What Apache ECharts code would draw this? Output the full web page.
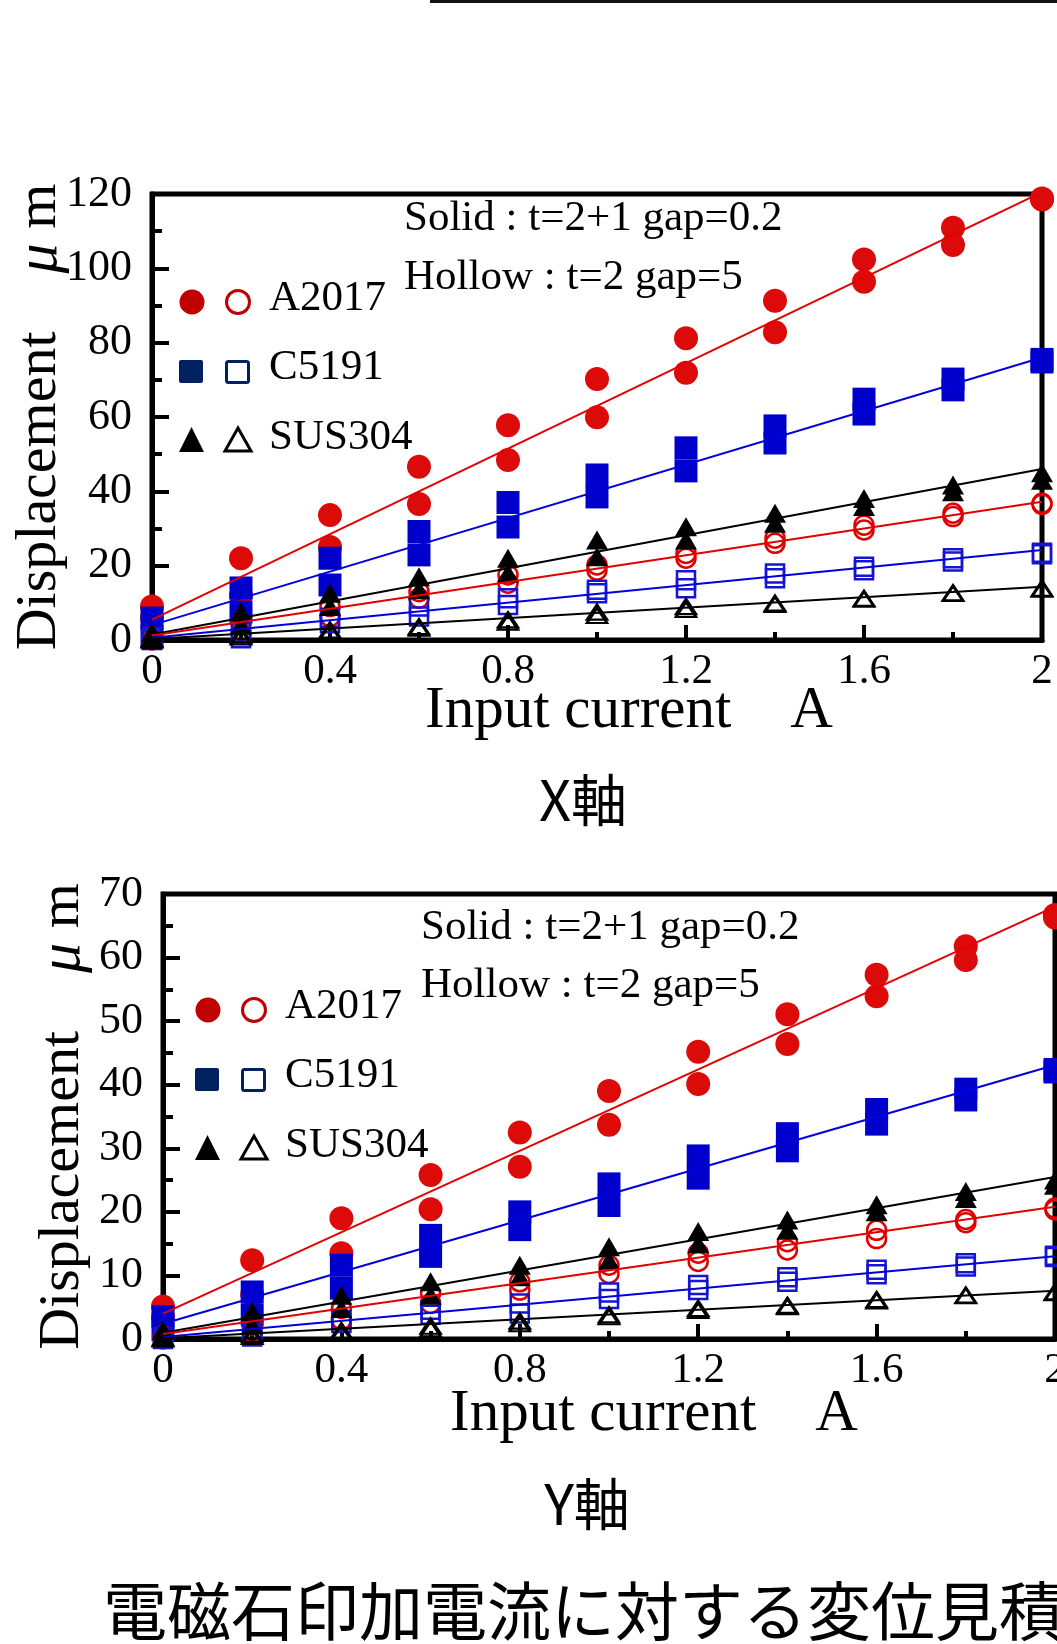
<!DOCTYPE html>
<html>
<head>
<meta charset="utf-8">
<script src="https://cdn.jsdelivr.net/npm/echarts@6/dist/echarts.min.js"></script>
<style>
  html, body { margin: 0; padding: 0; background: #fff; }
  #chart { width: 1057px; height: 1644px; }
</style>
</head>
<body>
<div id="chart"></div>
<script>
// 入力電流 A
var current = [0, 0.2, 0.4, 0.6, 0.8, 1.0, 1.2, 1.4, 1.6, 1.8, 2.0];
var xTickLabels = ['0', '0.4', '0.8', '1.2', '1.6', '2'];
var fitX = [0, 2];

// X軸 変位 μm (中実:2回測定 / 中空:2回測定)
var xA2017SolidHi = [9, 22, 33.6, 46.6, 57.8, 70.2, 81.2, 91.3, 102.4, 110.9, 118.8];
var xA2017SolidLo = [6, 12, 25, 36.6, 48.4, 59.9, 71.9, 82.8, 96.4, 106.3, 118.5];
var xC5191SolidHi = [5.9, 14, 22, 29.2, 37, 44.4, 51.7, 57.6, 64.8, 70.2, 75.5];
var xC5191SolidLo = [1, 7.5, 14.8, 22.9, 30.4, 38.5, 45.5, 53, 60.8, 67.3, 74.8];
var xSUS304SolidHi = [2, 7.6, 12.6, 17, 22, 26.9, 30.5, 34.1, 38.1, 41.7, 45];
var xSUS304SolidLo = [0, 4, 9, 13.5, 18, 22.4, 26.9, 31.4, 35.9, 39.9, 43];
var xA2017HollowHi = [0.9, 4.5, 9, 13, 17.5, 20.2, 23.3, 27.4, 30.9, 34.1, 36.8];
var xA2017HollowLo = [0, 1.9, 6.3, 11.2, 15.3, 18.8, 22, 26, 29.6, 33.2, 36.5];
var xC5191HollowHi = [0.8, 2, 6, 9, 11.2, 13.5, 16.1, 17.9, 19.7, 22, 23.5];
var xC5191HollowLo = [0, 0.5, 4.5, 6.3, 9.4, 12.6, 13.9, 16.6, 18.8, 21.1, 23.1];
var xSUS304HollowHi = [0.3, 1.3, 2.7, 3.6, 5.4, 7.5, 9, 9.9, 11.2, 12.7, 13.9];
var xSUS304HollowLo = [0, 0.8, 2.2, 3.2, 4.8, 6.6, 8.2, 9.6, 11, 12.5, 13.7];
// 近似直線 (I=0, I=2)
var xFitA2017Solid = [5.5, 120.5];
var xFitC5191Solid = [4, 76];
var xFitSUS304Solid = [1.5, 46];
var xFitA2017Hollow = [1.2, 37.2];
var xFitC5191Hollow = [0.6, 24.2];
var xFitSUS304Hollow = [0.3, 14.3];

// Y軸 変位 μm
var yA2017SolidHi = [5.1, 12.4, 19, 25.8, 32.5, 39, 45.2, 51.1, 57.3, 61.8, 66.7];
var yA2017SolidLo = [3.5, 7, 13.5, 20.4, 27.1, 33.7, 40.1, 46.4, 53.9, 59.6, 66.3];
var yC5191SolidHi = [3.5, 7.4, 11.6, 16.3, 20, 24.4, 28.8, 32.3, 36.1, 39.3, 42.4];
var yC5191SolidLo = [1.5, 3.8, 8, 13, 17.2, 21, 25.3, 29.6, 33.8, 37.6, 42];
var ySUS304SolidHi = [1.4, 4.3, 6.9, 9, 11.6, 14.5, 16.9, 18.7, 21.1, 23.2, 25];
var ySUS304SolidLo = [0.3, 2.2, 4.8, 6.9, 9.8, 12.4, 15, 17.1, 20, 22.1, 24.2];
var yA2017HollowHi = [0.5, 2.2, 4.8, 7.2, 9, 11.6, 13.5, 15.3, 17.1, 18.8, 20.6];
var yA2017HollowLo = [0, 1, 3, 5.6, 7.7, 10.3, 12.2, 14, 15.8, 18.3, 20.3];
var yC5191HollowHi = [0.3, 0.9, 3, 4.6, 5.6, 7.3, 8.5, 9.7, 10.9, 11.9, 13.1];
var yC5191HollowLo = [0, 0.4, 2.5, 3.8, 4, 6.3, 7.7, 9, 10.2, 11.4, 12.9];
var ySUS304HollowHi = [0.2, 0.7, 1.3, 2, 2.8, 3.8, 4.8, 5.3, 6.2, 6.9, 7.4];
var ySUS304HollowLo = [0, 0.4, 1, 1.6, 2.4, 3.5, 4.5, 5.1, 6, 6.8, 7.3];
var yFitA2017Solid = [4, 68];
var yFitC5191Solid = [2.4, 43.1];
var yFitSUS304Solid = [1, 25.5];
var yFitA2017Hollow = [0.8, 20.8];
var yFitC5191Hollow = [0.3, 13];
var yFitSUS304Hollow = [0.1, 7.6];

var SERIF = '"Liberation Serif", "Times New Roman", serif';
var CJK = '"Noto Sans CJK JP", sans-serif';

function pairs(xs, ys) {
    var out = [];
    for (var i = 0; i < ys.length; i++) {
        out.push([xs[i], ys[i]]);
    }
    return out;
}

// マーカーの種類
var marks = {
    redFill:    { symbol: 'circle', size: 24, itemStyle: { color: '#dd0a0a', opacity: 1 } },
    blueFill:   { symbol: 'rect', size: 23, itemStyle: { color: '#0000cc', opacity: 1 } },
    blackFill:  { symbol: 'triangle', size: [22, 19], itemStyle: { color: '#000', opacity: 1 } },
    redHollow:  { symbol: 'circle', size: 19, itemStyle: { color: 'rgba(0,0,0,0)', borderColor: '#e00000', borderWidth: 2.5, opacity: 1 } },
    blueHollow: { symbol: 'rect', size: 18, itemStyle: { color: 'rgba(0,0,0,0)', borderColor: '#1414d2', borderWidth: 2.5, opacity: 1 } },
    blackHollow:{ symbol: 'triangle', size: [20, 15], itemStyle: { color: 'rgba(0,0,0,0)', borderColor: '#000', borderWidth: 2.5, opacity: 1 } }
};

function scatter(gi, ys, m) {
    return {
        type: 'scatter', xAxisIndex: gi, yAxisIndex: gi,
        data: pairs(current, ys),
        symbol: m.symbol, symbolSize: m.size,
        itemStyle: m.itemStyle, silent: true
    };
}

function fitLine(gi, ys, color) {
    return {
        type: 'line', xAxisIndex: gi, yAxisIndex: gi,
        data: pairs(fitX, ys), symbol: 'none', silent: true, z: 3,
        lineStyle: { color: color, width: 2 }
    };
}

function xAxisOf(gi, nameGap, nameShift) {
    return {
        type: 'value', gridIndex: gi, min: 0, max: 2, interval: 0.4,
        axisLine: { show: true, lineStyle: { color: '#000', width: 5 } },
        axisTick: { show: true, inside: true, length: 15, lineStyle: { color: '#000', width: 4 } },
        minorTick: { show: true, splitNumber: 2, length: 8, lineStyle: { color: '#000', width: 4 } },
        splitLine: { show: false },
        axisLabel: {
            fontFamily: SERIF, fontSize: 43, color: '#000', margin: 10,
            formatter: function (v) { return xTickLabels[Math.round(v / 0.4)]; }
        },
        name: 'Input current\u3000A', nameLocation: 'middle', nameGap: nameGap, nameMoveOverlap: false,
        nameTextStyle: { fontFamily: SERIF, fontSize: 59, color: '#000', padding: [0, 0, 0, nameShift] }
    };
}

function yAxisOf(gi, max, interval, nameGap) {
    return {
        type: 'value', gridIndex: gi, min: 0, max: max, interval: interval,
        axisLine: { show: true, lineStyle: { color: '#000', width: 5 } },
        axisTick: { show: true, inside: true, length: 17, lineStyle: { color: '#000', width: 4 } },
        minorTick: { show: true, splitNumber: 2, length: 10, lineStyle: { color: '#000', width: 4 } },
        splitLine: { show: false },
        axisLabel: { fontFamily: SERIF, fontSize: 44, color: '#000', margin: 20, padding: [0, 0, 16, 0] },
        name: '{a|Displacement\u3000}{b|\u03bc}{a| m}', nameLocation: 'middle', nameGap: nameGap, nameMoveOverlap: false,
        nameTextStyle: {
            fontFamily: SERIF, fontSize: 58, color: '#000',
            rich: {
                a: { fontFamily: SERIF, fontSize: 58, color: '#000' },
                b: { fontFamily: SERIF, fontSize: 60, fontStyle: 'italic', color: '#000' }
            }
        }
    };
}

// 凡例 (図の中に描かれたもの)
function legendAt(ox, oy) {
    var f = '43px ' + SERIF;
    return [
        { type: 'circle', shape: { cx: ox + 192, cy: oy + 302, r: 12.5 }, style: { fill: '#c00000' } },
        { type: 'circle', shape: { cx: ox + 238, cy: oy + 302, r: 11.5 }, style: { fill: 'none', stroke: '#c00000', lineWidth: 3 } },
        { type: 'text', x: ox + 269, y: oy + 299, style: { text: 'A2017', font: f, fill: '#000', verticalAlign: 'middle' } },
        { type: 'rect', shape: { x: ox + 179, y: oy + 360, width: 24, height: 23, r: 2 }, style: { fill: '#002060' } },
        { type: 'rect', shape: { x: ox + 226.5, y: oy + 361.5, width: 22, height: 21, r: 2 }, style: { fill: 'none', stroke: '#002060', lineWidth: 3 } },
        { type: 'text', x: ox + 269, y: oy + 368, style: { text: 'C5191', font: f, fill: '#000', verticalAlign: 'middle' } },
        { type: 'polygon', shape: { points: [[ox + 179, oy + 452], [ox + 191.5, oy + 427], [ox + 204, oy + 452]] }, style: { fill: '#000' } },
        { type: 'polygon', shape: { points: [[ox + 225, oy + 451], [ox + 238, oy + 428], [ox + 251, oy + 451]] }, style: { fill: 'none', stroke: '#000', lineWidth: 3 } },
        { type: 'text', x: ox + 269, y: oy + 438, style: { text: 'SUS304', font: f, fill: '#000', verticalAlign: 'middle' } }
    ];
}

function noteAt(x, y1, y2) {
    var f = '43px ' + SERIF;
    return [
        { type: 'text', x: x, y: y1, style: { text: 'Solid : t=2+1 gap=0.2', font: f, fill: '#000', verticalAlign: 'middle' } },
        { type: 'text', x: x, y: y2, style: { text: 'Hollow : t=2 gap=5', font: f, fill: '#000', verticalAlign: 'middle' } }
    ];
}

var series = [
    scatter(0, xA2017SolidHi, marks.redFill), scatter(0, xA2017SolidLo, marks.redFill),
    scatter(0, xC5191SolidHi, marks.blueFill), scatter(0, xC5191SolidLo, marks.blueFill),
    scatter(0, xA2017HollowHi, marks.redHollow), scatter(0, xA2017HollowLo, marks.redHollow),
    scatter(0, xC5191HollowHi, marks.blueHollow), scatter(0, xC5191HollowLo, marks.blueHollow),
    scatter(0, xSUS304SolidHi, marks.blackFill), scatter(0, xSUS304SolidLo, marks.blackFill),
    scatter(0, xSUS304HollowHi, marks.blackHollow), scatter(0, xSUS304HollowLo, marks.blackHollow),
    fitLine(0, xFitA2017Solid, '#e30000'), fitLine(0, xFitC5191Solid, '#0000dd'), fitLine(0, xFitSUS304Solid, '#000'),
    fitLine(0, xFitA2017Hollow, '#e30000'), fitLine(0, xFitC5191Hollow, '#0000dd'), fitLine(0, xFitSUS304Hollow, '#000'),

    scatter(1, yA2017SolidHi, marks.redFill), scatter(1, yA2017SolidLo, marks.redFill),
    scatter(1, yC5191SolidHi, marks.blueFill), scatter(1, yC5191SolidLo, marks.blueFill),
    scatter(1, yA2017HollowHi, marks.redHollow), scatter(1, yA2017HollowLo, marks.redHollow),
    scatter(1, yC5191HollowHi, marks.blueHollow), scatter(1, yC5191HollowLo, marks.blueHollow),
    scatter(1, ySUS304SolidHi, marks.blackFill), scatter(1, ySUS304SolidLo, marks.blackFill),
    scatter(1, ySUS304HollowHi, marks.blackHollow), scatter(1, ySUS304HollowLo, marks.blackHollow),
    fitLine(1, yFitA2017Solid, '#e30000'), fitLine(1, yFitC5191Solid, '#0000dd'), fitLine(1, yFitSUS304Solid, '#000'),
    fitLine(1, yFitA2017Hollow, '#e30000'), fitLine(1, yFitC5191Hollow, '#0000dd'), fitLine(1, yFitSUS304Hollow, '#000')
];

var graphic = [
    { type: 'rect', shape: { x: 430, y: 0, width: 627, height: 3 }, style: { fill: '#111' } },
    { type: 'text', x: 583, y: 800, style: { text: 'X軸', font: '56px ' + CJK, fill: '#000', align: 'center', verticalAlign: 'middle' } },
    { type: 'text', x: 587, y: 1504, style: { text: 'Y軸', font: '56px ' + CJK, fill: '#000', align: 'center', verticalAlign: 'middle' } },
    { type: 'text', x: 103, y: 1611, style: { text: '電磁石印加電流に対する変位見積', font: '64px ' + CJK, fill: '#000', verticalAlign: 'middle' } }
]
    .concat(legendAt(0, 0)).concat(legendAt(16, 708))
    .concat(noteAt(404, 219, 278)).concat(noteAt(421, 928, 986));

var myChart = echarts.init(document.getElementById('chart'), null, { renderer: 'canvas' });
var option = {
    backgroundColor: '#fff',
    animation: false,
    grid: [
        { left: 152, top: 194, width: 890, height: 446, outerBoundsMode: 'none', show: true, borderColor: '#000', borderWidth: 5, backgroundColor: 'transparent' },
        { left: 163, top: 894, width: 892, height: 445, outerBoundsMode: 'none', show: true, borderColor: '#000', borderWidth: 5, backgroundColor: 'transparent' }
    ],
    xAxis: [xAxisOf(0, 42, 64), xAxisOf(1, 46, 90)],
    yAxis: [yAxisOf(0, 120, 20, 82), yAxisOf(1, 70, 10, 70)],
    series: series,
    graphic: graphic
};
myChart.setOption(option);
</script>
</body>
</html>
